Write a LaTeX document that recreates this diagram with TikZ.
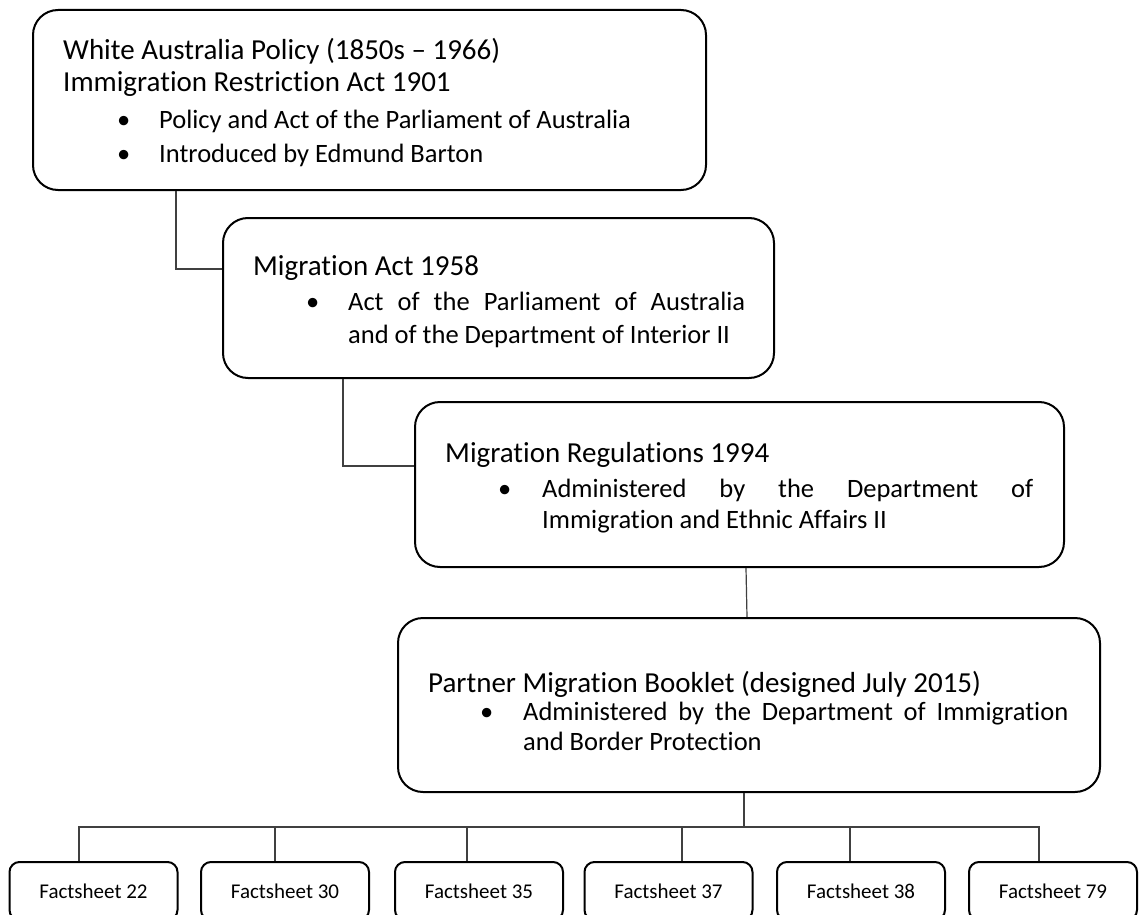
\documentclass[tikz,border=0pt]{standalone}
\usepackage{fontspec}
\setmainfont{Carlito}[Ligatures=NoCommon]
\usetikzlibrary{positioning}

\tikzset{
  bigbox/.style={draw=black, line width=2pt, rounded corners=25pt, inner sep=0pt},
  fsbox/.style={draw=black, line width=2pt, rounded corners=10pt, minimum width=168pt,
    minimum height=58pt, inner sep=0pt, font=\fontsize{21}{25}\selectfont},
  txtline/.style={anchor=base west, inner sep=0pt, font=\fontsize{29}{33}\selectfont},
  bulline/.style={anchor=base west, inner sep=0pt, font=\fontsize{26.5}{32}\selectfont},
  conn/.style={draw=black!75, line width=1.2pt}
}

\begin{document}
\begin{tikzpicture}[x=1pt,y=-1pt]
\useasboundingbox (0,0) rectangle (1143,915);
\clip (0,0) rectangle (1143,915);

% the four main boxes
\node[bigbox, minimum width=673pt, minimum height=180pt] (wap) at (369.5,100) {};
\node[bigbox, minimum width=551pt, minimum height=160pt] (ma) at (498.5,298) {};
\node[bigbox, minimum width=649pt, minimum height=165pt] (rmr) at (739.5,484.5) {};
\node[bigbox, minimum width=702pt, minimum height=174pt] (pmb) at (749,705) {};

% texts
\node[txtline] (wap1) at (63,60) {White Australia Policy (1850s – 1966)};
\node[txtline] (wap2) at (63,92) {Immigration Restriction Act 1901};
\node[bulline] (wap3) at (117,129) {\makebox[42pt][l]{•}Policy and Act of the Parliament of Australia};
\node[bulline] (wap4) at (117,162) {\makebox[42pt][l]{•}Introduced by Edmund Barton};

\node[txtline] (ma1) at (253,275) {Migration Act 1958};
\node[bulline] (ma2) at (306,310) {\makebox[42pt][l]{•}\makebox[397pt][s]{Act of the Parliament of Australia}};
\node[bulline] (ma3) at (348,343) {and of the Department of Interior II};

\node[txtline] (rmr1) at (445,462) {Migration Regulations 1994};
\node[bulline] (rmr2) at (498,497) {\makebox[44pt][l]{•}\makebox[491pt][s]{Administered by the Department of}};
\node[bulline] (rmr3) at (542,528) {Immigration and Ethnic Affairs II};

\node[txtline] (pmb1) at (428,692) {Partner Migration Booklet (designed July 2015)};
\node[bulline] (pmb2) at (480,720) {\makebox[43pt][l]{•}\makebox[545pt][s]{Administered by the Department of Immigration}};
\node[bulline] (pmb3) at (523,750) {and Border Protection};

% factsheets
\foreach \n/\x in {22/93.5, 30/285, 35/479, 37/668.5, 38/861, 79/1053}
  \node[fsbox] (fs\n) at (\x,891) {Factsheet \n};

% connectors
\draw[conn] ([xshift=144pt]wap.south west) |- ([yshift=29pt]ma.west);
\draw[conn] ([xshift=121pt]ma.south west) |- ([yshift=18.5pt]rmr.west);
\draw[conn] ([xshift=6.5pt]rmr.south) -- ([xshift=-2pt]pmb.north);
\coordinate (bus) at (744,827);
\draw[conn] ([xshift=-5pt]pmb.south) -- (bus);
\foreach \n/\s in {22/-14.5, 30/-10, 35/-12, 37/13.5, 38/-11, 79/-14}
  \draw[conn] ([xshift=\s pt]fs\n.north) |- (bus);
\end{tikzpicture}
\end{document}
